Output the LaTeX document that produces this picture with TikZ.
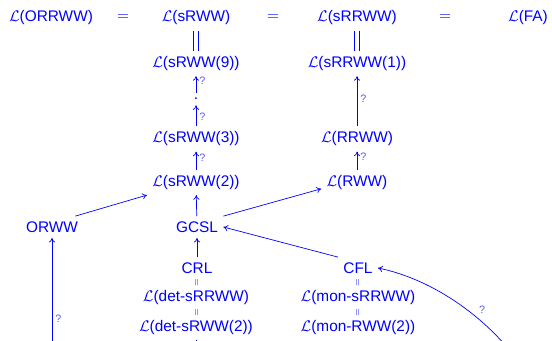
\documentclass[tikz,border=0pt]{standalone}
\usepackage{fontspec}
\setmainfont{Liberation Sans}
\usepackage{tikz}
\usetikzlibrary{arrows.meta}
\definecolor{cLang}{RGB}{0,0,255}
\definecolor{cQm}{RGB}{90,90,235}
\tikzset{
  langnode/.style={text=cLang,font=\normalsize},
  eqnode/.style={text=cLang,font=\normalsize},
  smalleq/.style={text=cLang,font=\tiny,rotate=90,inner sep=0pt},
  arr/.style={-{To[length=3pt,width=4pt]},line width=0.45pt,color=cLang},
  plainline/.style={line width=0.45pt,color=cLang},
  eqline/.style={draw=cLang,line width=0.5pt,double=white,double distance=2.4pt},
  qmark/.style={font=\scriptsize,text=cQm,inner sep=2pt}
}

\begin{document}
\begin{tikzpicture}[x=0.65pt,y=-0.65pt]
  \useasboundingbox (0,0) rectangle (552,341);
  \clip (0,0) rectangle (552,341);

  \node[langnode] (orrww) at (51,18)  {$\mathcal{L}$(ORRWW)};
  \node[eqnode]   (eqa)   at (123,18) {$=$};
  \node[langnode] (srww)  at (196,18) {$\mathcal{L}$(sRWW)};
  \node[eqnode]   (eqb)   at (273,18) {$=$};
  \node[langnode] (srrww) at (357,18) {$\mathcal{L}$(sRRWW)};
  \node[eqnode]   (eqc)   at (445,18) {$=$};
  \node[langnode] (fa)    at (528,18) {$\mathcal{L}$(FA)};

  \node[langnode] (srwwnine) at (196,63.5) {$\mathcal{L}$(sRWW(9))};
  \node[langnode] (srrwwone) at (357,63.5) {$\mathcal{L}$(sRRWW(1))};
  \node[langnode] (dot)      at (196,99)   {.};

  \node[langnode] (srwwthree) at (196,139) {$\mathcal{L}$(sRWW(3))};
  \node[langnode] (rrww)      at (357,139) {$\mathcal{L}$(RRWW)};
  \node[langnode] (srwwtwo)   at (196,182.5) {$\mathcal{L}$(sRWW(2))};
  \node[langnode] (rww)       at (357,182.5) {$\mathcal{L}$(RWW)};

  \node[langnode] (orww) at (52,227)  {ORWW};
  \node[langnode] (gcsl) at (197,227) {GCSL};
  \node[langnode] (crl)  at (197,268) {CRL};
  \node[langnode] (cfl)  at (358,268) {CFL};

  \node[smalleq] (eqcrl) at (197,282.5) {$=$};
  \node[smalleq] (eqcfl) at (358,282.5) {$=$};
  \node[langnode] (detsrrww) at (196,297.5) {$\mathcal{L}$(det-sRRWW)};
  \node[langnode] (monsrrww) at (358,297.5) {$\mathcal{L}$(mon-sRRWW)};
  \node[smalleq] (eqdet) at (197,313) {$=$};
  \node[smalleq] (eqmon) at (358,313) {$=$};
  \node[langnode] (detsrwwtwo) at (196,327.5) {$\mathcal{L}$(det-sRWW(2))};
  \node[langnode] (monrwwtwo)  at (358,327.5) {$\mathcal{L}$(mon-RWW(2))};

  \coordinate (orwwsrc) at (52,400);
  \coordinate (cflsrc)  at (530,378);
  \coordinate (detdown) at (196,380);

  \draw[eqline] (srww) -- (srwwnine);
  \draw[eqline] (srrww) -- (srrwwone);

  \draw[arr] (dot) -- (srwwnine) node[qmark,pos=0.7,right]{?};
  \draw[arr] (srwwthree) -- (dot) node[qmark,pos=0.45,right]{?};
  \draw[arr] (srwwtwo) -- (srwwthree) node[qmark,pos=0.65,right]{?};
  \draw[arr] (gcsl) -- (srwwtwo);
  \draw[arr] (rww) -- (rrww) node[qmark,pos=0.7,right]{?};
  \draw[arr] (rrww) -- (srrwwone) node[qmark,pos=0.55,right]{?};

  \draw[arr] (orww.25) -- (srwwtwo.south west);
  \draw[arr] (gcsl.north east) -- (rww.190);
  \draw[arr] (cfl.north west) -- (gcsl.east);
  \draw[arr] (crl) -- (gcsl);
  \draw[arr] (orwwsrc) -- (orww) node[qmark,pos=0.5,right]{?};
  \draw[arr] (cflsrc) .. controls (492,318) and (432,279) .. (cfl.east)
      node[qmark,pos=0.4,above right]{?};
  \draw[plainline] (detsrwwtwo) -- (detdown);

\end{tikzpicture}
\end{document}
